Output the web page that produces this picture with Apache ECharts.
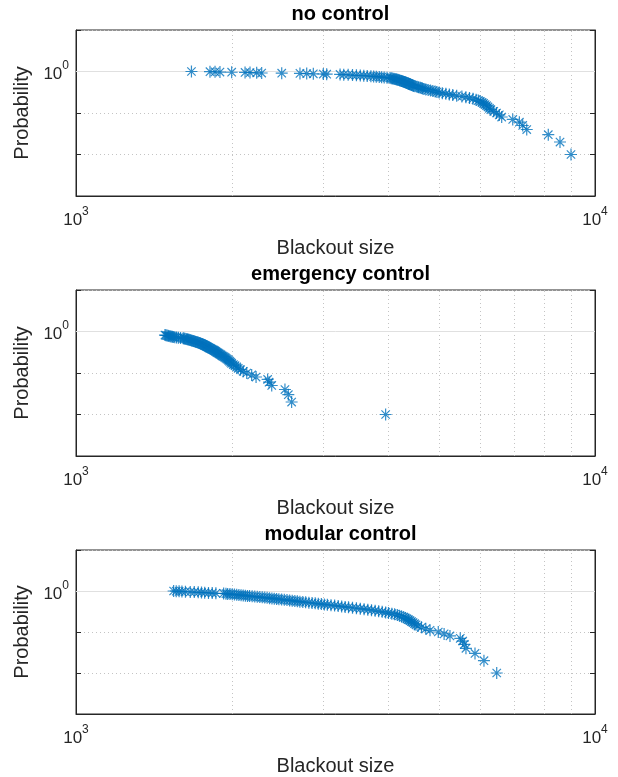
<!DOCTYPE html>
<html lang="en">
<head>
<meta charset="UTF-8">
<title>Blackout size</title>
<script src="https://cdn.jsdelivr.net/npm/echarts@6/dist/echarts.min.js"></script>
<style>
    html, body { margin: 0; padding: 0; background: #fff; }
    #main { width: 618px; height: 777px; }
</style>
</head>
<body>
<div id="main"></div>
<script>
var titles = ['no control', 'emergency control', 'modular control'];

// probability of a blackout at least this big, 1.00 .. 0.01
var probability = [
    1.00, 0.99, 0.98, 0.97, 0.96, 0.95, 0.94, 0.93, 0.92, 0.91,
    0.90, 0.89, 0.88, 0.87, 0.86, 0.85, 0.84, 0.83, 0.82, 0.81,
    0.80, 0.79, 0.78, 0.77, 0.76, 0.75, 0.74, 0.73, 0.72, 0.71,
    0.70, 0.69, 0.68, 0.67, 0.66, 0.65, 0.64, 0.63, 0.62, 0.61,
    0.60, 0.59, 0.58, 0.57, 0.56, 0.55, 0.54, 0.53, 0.52, 0.51,
    0.50, 0.49, 0.48, 0.47, 0.46, 0.45, 0.44, 0.43, 0.42, 0.41,
    0.40, 0.39, 0.38, 0.37, 0.36, 0.35, 0.34, 0.33, 0.32, 0.31,
    0.30, 0.29, 0.28, 0.27, 0.26, 0.25, 0.24, 0.23, 0.22, 0.21,
    0.20, 0.19, 0.18, 0.17, 0.16, 0.15, 0.14, 0.13, 0.12, 0.11,
    0.10, 0.09, 0.08, 0.07, 0.06, 0.05, 0.04, 0.03, 0.02, 0.01
];

var sizeNoControl = [
    1669, 1812, 1853, 1894, 1995, 2117, 2164, 2229, 2279, 2491,
    2701, 2783, 2866, 2996, 3041, 3227, 3280, 3345, 3410, 3470,
    3530, 3585, 3640, 3700, 3745, 3790, 3840, 3880, 3925, 3975,
    4027, 4050, 4070, 4095, 4115, 4135, 4150, 4170, 4190, 4205,
    4225, 4240, 4260, 4275, 4295, 4310, 4325, 4340, 4360, 4375,
    4390, 4405, 4420, 4435, 4450, 4470, 4500, 4540, 4570, 4600,
    4625, 4650, 4680, 4720, 4770, 4820, 4870, 4920, 4960, 5010,
    5080, 5160, 5240, 5320, 5414, 5540, 5640, 5730, 5820, 5900,
    5960, 6010, 6060, 6100, 6140, 6180, 6220, 6260, 6300, 6380,
    6460, 6540, 6610, 6942, 7150, 7256, 7387, 8128, 8562, 8990
];

// starts at probability 0.82
var sizeEmergency = [
    1484, 1490, 1497, 1504, 1510, 1518, 1525, 1533, 1540, 1550,
    1562, 1575, 1590, 1609, 1615, 1622, 1630, 1638, 1645, 1652,
    1660, 1668, 1675, 1683, 1690, 1698, 1705, 1713, 1720, 1728,
    1736, 1742, 1748, 1754, 1760, 1766, 1772, 1778, 1784, 1790,
    1796, 1802, 1808, 1815, 1822, 1830, 1839, 1846, 1852, 1858,
    1865, 1872, 1880, 1888, 1897, 1905, 1913, 1922, 1932, 1942,
    1952, 1962, 1970, 1978, 1987, 1995, 2010, 2025, 2040, 2054,
    2075, 2100, 2133, 2180, 2223, 2340, 2355, 2383, 2527, 2565,
    2603, 3950
];

var sizeModular = [
    1542, 1560, 1580, 1600, 1625, 1660, 1690, 1720, 1745, 1770,
    1800, 1830, 1860, 1925, 1945, 1960, 1980, 2000, 2020, 2040,
    2060, 2080, 2100, 2120, 2140, 2160, 2185, 2210, 2235, 2260,
    2285, 2310, 2335, 2360, 2385, 2410, 2435, 2460, 2490, 2520,
    2550, 2580, 2610, 2640, 2670, 2700, 2735, 2770, 2810, 2850,
    2890, 2930, 2970, 3010, 3050, 3100, 3150, 3200, 3250, 3300,
    3350, 3410, 3470, 3530, 3590, 3650, 3710, 3770, 3830, 3890,
    3950, 4000, 4060, 4110, 4160, 4200, 4240, 4280, 4310, 4340,
    4370, 4400, 4430, 4460, 4490, 4520, 4560, 4630, 4720, 4810,
    4989, 5120, 5255, 5500, 5560, 5600, 5641, 5872, 6110, 6466
];

var xMinorGrid = [2000, 3000, 4000, 5000, 6000, 7000, 8000, 9000];

var FONT = 'Liberation Sans';
var TXT = '#262626';
var BLUE = '#0072BD';
var asterisk = 'path://M5,0L5,10M0,5L10,5M1.5,1.5L8.5,8.5M1.5,8.5L8.5,1.5';

function pairs(xs) {
    // xs is sorted ascending, probabilities end at 0.01
    var ps = probability.slice(probability.length - xs.length);
    return xs.map(function (x, k) { return [x, ps[k]]; });
}

function supRich() {
    return {
        b: { fontFamily: FONT, fontSize: 17, color: TXT, padding: [6, 0, 0, 0], verticalAlign: 'bottom' },
        s: { fontFamily: FONT, fontSize: 12, color: TXT, verticalAlign: 'top' }
    };
}

function near(a, b) { return Math.abs(a - b) / b < 1e-6; }

var dataSets = [sizeNoControl, sizeEmergency, sizeModular];
var gridTops = [30, 290, 550];
var grids = [], xAxes = [], yAxes = [], series = [], titleList = [];

for (var i = 0; i < 3; i++) {
    var gTop = gridTops[i];
    grids.push({
        left: 76, top: gTop, width: 519, height: 166,
        show: true, borderColor: TXT, borderWidth: 1, backgroundColor: '#fff'
    });
    titleList.push({
        text: titles[i], left: 335.5, top: gTop - 31, textAlign: 'center',
        textStyle: { fontFamily: FONT, fontSize: 20, fontWeight: 'bold', color: '#000' }
    });
    xAxes.push({
        type: 'log', logBase: 10, gridIndex: i, min: 1000, max: 10000,
        name: 'Blackout size', nameLocation: 'middle', nameGap: 42,
        nameTextStyle: { fontFamily: FONT, fontSize: 20, color: TXT },
        axisLine: { show: true, lineStyle: { color: TXT, width: 1 } },
        axisTick: { show: true, inside: true, length: 5, lineStyle: { color: TXT } },
        splitLine: { show: false },
        axisLabel: {
            margin: 10,
            formatter: function (v) {
                if (near(v, 1000)) return '{b|10}{s|3}';
                if (near(v, 10000)) return '{b|10}{s|4}';
                return '';
            },
            rich: supRich()
        }
    });
    yAxes.push({
        type: 'log', logBase: 10, gridIndex: i, min: 0.001, max: 10,
        name: 'Probability', nameLocation: 'middle', nameGap: 42,
        nameTextStyle: { fontFamily: FONT, fontSize: 20, color: TXT },
        axisLine: { show: true, lineStyle: { color: TXT, width: 1 } },
        axisTick: { show: true, inside: true, length: 5, lineStyle: { color: TXT } },
        splitLine: { show: true, lineStyle: { color: '#c4c4c4', type: [1, 3], width: 1 } },
        axisLabel: {
            margin: 7,
            formatter: function (v) { return near(v, 1) ? '{b|10}{s|0}' : ''; },
            rich: supRich()
        }
    });
    yAxes.push({
        type: 'log', logBase: 10, gridIndex: i, min: 0.001, max: 10, position: 'right',
        axisLine: { show: true, lineStyle: { color: TXT, width: 1 } },
        axisTick: { show: true, inside: true, length: 5, lineStyle: { color: TXT } },
        splitLine: { show: false },
        axisLabel: { show: false }
    });

    var lines = xMinorGrid.map(function (v) {
        return { xAxis: v, lineStyle: { color: '#c4c4c4', type: [1, 3], width: 1 } };
    });
    lines.push({ yAxis: 1, lineStyle: { color: '#e0e0e0', type: 'solid', width: 1 } });

    series.push({
        type: 'scatter',
        xAxisIndex: i,
        yAxisIndex: 2 * i,
        data: pairs(dataSets[i]),
        symbol: asterisk,
        symbolSize: 12,
        itemStyle: { color: 'rgba(0,0,0,0)', borderColor: BLUE, borderWidth: 1.2 },
        emphasis: { disabled: true },
        silent: true,
        z: 3,
        markLine: {
            silent: true, z: 1, symbol: ['none', 'none'], label: { show: false },
            emphasis: { disabled: true },
            data: lines
        }
    });
}

var chart = echarts.init(document.getElementById('main'), null, { renderer: 'canvas' });
chart.setOption({
    animation: false,
    backgroundColor: '#fff',
    title: titleList,
    grid: grids,
    xAxis: xAxes,
    yAxis: yAxes,
    series: series
});
</script>
</body>
</html>
